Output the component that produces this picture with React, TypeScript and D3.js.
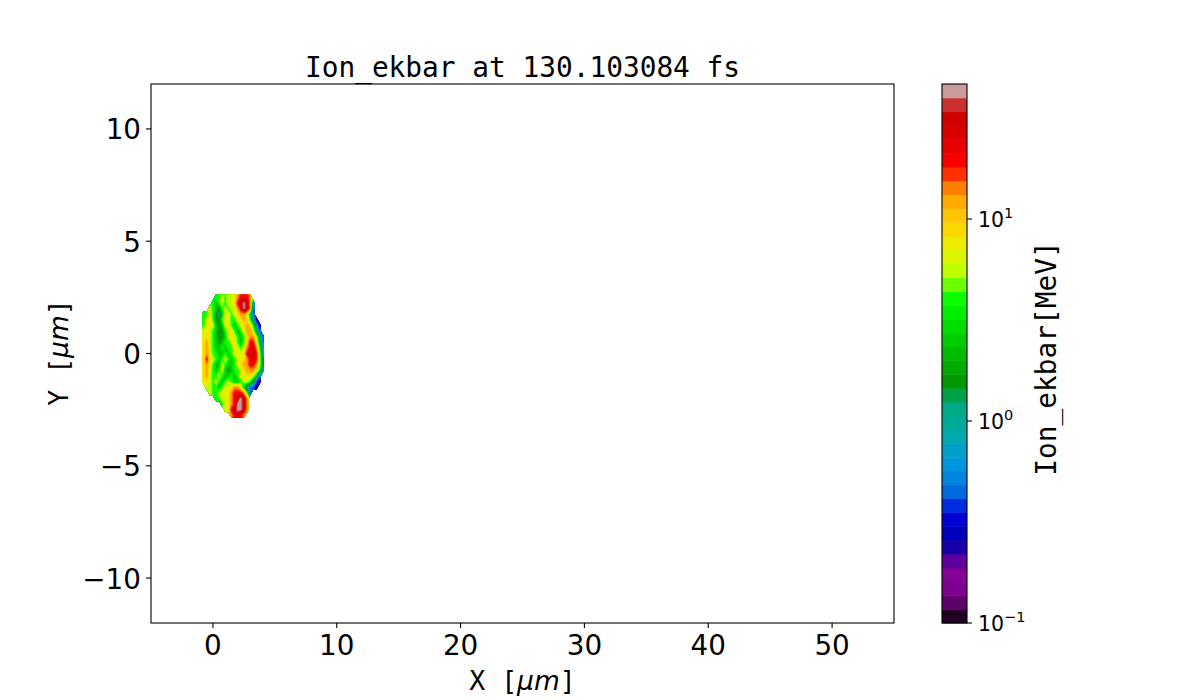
import * as d3 from "d3";
import { useMemo } from "react";

// axes
const X_DOMAIN = [-5, 55];
const Y_DOMAIN = [-12, 12];
const X_TICKS = [0, 10, 20, 30, 40, 50];
const Y_TICKS = [-10, -5, 0, 5, 10];

// colour bar (log scale, discrete contour levels)
const CBAR_MIN = 0.1;
const CBAR_MAX = 46.6;
const N_BANDS = 39;
const CBAR_TICKS = [0.1, 1, 10];
const CBAR_TICK_EXP = ["\u22121", "0", "1"];

// ion energy map: one char per cell, "." = no ions
// grid starts at x = -1 um (left) and y = 2.75 um (top), 0.25 um per cell
const GRID_X0 = -1.0;
const GRID_Y0 = 2.75;
const GRID_STEP = 0.25;
const ENERGY_CODES = "0123456789ab";
const ENERGY_MEV = [0.25, 0.45, 0.9, 1.6, 2.5, 4, 6, 8, 13, 20, 30, 42];
const ENERGY_GRID = [
  "......................",
  ".....556566789998.....",
  "....545656679aba82....",
  "...65435656689ba81....",
  ".55653246756788741....",
  ".567533576556787520...",
  ".5676434675456787520..",
  ".6765433567545688631..",
  ".77654334676545788631.",
  ".78654345567545799741.",
  ".7865445455765689a852.",
  ".787554454567679aa962.",
  ".7976545654567789a963.",
  ".78754465445678899863.",
  ".78654564345567888752.",
  ".7865565445456777641..",
  ".7765654565445665310..",
  "..66554566788742110...",
  "...65566778999851.....",
  ".....5566789aba8......",
  ".......56789bba8......",
  "........679abba8......",
  "..........89a98.......",
  "......................",
];

// matplotlib nipy_spectral segment table
const NS_R = [0, 0.4667, 0.5333, 0, 0, 0, 0, 0, 0, 0, 0, 0, 0, 0.7333, 0.9333, 1, 1, 1, 0.8667, 0.8, 0.8];
const NS_G = [0, 0, 0, 0, 0, 0.4667, 0.6, 0.6667, 0.6667, 0.6, 0.7333, 0.8667, 1, 1, 0.9333, 0.8, 0.6, 0, 0, 0, 0.8];
const NS_B = [0, 0.5333, 0.6, 0.6667, 0.8667, 0.8667, 0.8667, 0.6667, 0.5333, 0, 0, 0, 0, 0, 0, 0, 0, 0, 0, 0, 0.8];

const nipySpectral = d3
  .scaleLinear<string>()
  .domain(NS_R.map((_, i) => i * 0.05))
  .range(NS_R.map((r, i) => d3.rgb(r * 255, NS_G[i] * 255, NS_B[i] * 255).toString()))
  .interpolate(d3.interpolateRgb)
  .clamp(true);

const W = 1200;
const H = 700;
const PLOT = { left: 151, right: 894, top: 84, bottom: 623 };
const CBAR = { left: 942, right: 967 };

const MONO = "'DejaVu Sans Mono', monospace";
const SANS = "'DejaVu Sans', sans-serif";

export default function App() {
  const x = d3.scaleLinear().domain(X_DOMAIN).range([PLOT.left, PLOT.right]);
  const y = d3.scaleLinear().domain(Y_DOMAIN).range([PLOT.bottom, PLOT.top]);
  const c = d3.scaleLog().domain([CBAR_MIN, CBAR_MAX]).range([PLOT.bottom, PLOT.top]);

  // band edges, equal steps in log space
  const lmin = Math.log10(CBAR_MIN);
  const lmax = Math.log10(CBAR_MAX);
  const edges = d3.range(N_BANDS + 1).map((k) => Math.pow(10, lmin + (k * (lmax - lmin)) / N_BANDS));
  const bandColor = d3.range(N_BANDS).map((k) => {
    const mid = 0.5 * (edges[k] + edges[k + 1]);
    return nipySpectral((Math.log10(mid) - lmin) / (lmax - lmin));
  });

  const { bands, mask } = useMemo(() => {
    const nx = ENERGY_GRID[0].length;
    const ny = ENERGY_GRID.length;
    const vals: number[] = [];
    const inside: number[] = [];
    ENERGY_GRID.forEach((row) => {
      for (const ch of row) {
        const i = ENERGY_CODES.indexOf(ch);
        vals.push(i < 0 ? NaN : Math.log10(ENERGY_MEV[i]));
        inside.push(i < 0 ? 0 : 1);
      }
    });
    // pad the empty cells with neighbour means so the contours don't
    // fall off at the blob edge; the mask clips them afterwards
    for (let pass = 0; pass < 3; pass++) {
      const next = vals.slice();
      for (let j = 0; j < ny; j++) {
        for (let i = 0; i < nx; i++) {
          if (!isNaN(vals[j * nx + i])) continue;
          let s = 0;
          let n = 0;
          for (let dj = -1; dj <= 1; dj++)
            for (let di = -1; di <= 1; di++) {
              const ii = i + di;
              const jj = j + dj;
              if (ii < 0 || jj < 0 || ii >= nx || jj >= ny) continue;
              const v = vals[jj * nx + ii];
              if (!isNaN(v)) {
                s += v;
                n++;
              }
            }
          if (n) next[j * nx + i] = s / n;
        }
      }
      for (let k = 0; k < vals.length; k++) vals[k] = next[k];
    }
    const filled = vals.map((v) => (isNaN(v) ? -5 : v));
    const thresholds = edges.slice(0, N_BANDS).map((e) => Math.log10(e));
    const bands = d3.contours().size([nx, ny]).thresholds(thresholds)(filled);
    const mask = d3.contours().size([nx, ny]).thresholds([0.5])(inside)[0];
    return { bands, mask };
  }, []);

  const proj = d3.geoTransform({
    point(gx: number, gy: number) {
      this.stream.point(x(GRID_X0 + (gx - 0.5) * GRID_STEP), y(GRID_Y0 - (gy - 0.5) * GRID_STEP));
    },
  });
  const path = d3.geoPath(proj);

  return (
    <div style={{ position: "absolute", left: 0, top: 0 }}>
      <svg width={W} height={H} style={{ display: "block", background: "#fff" }}>
        <defs>
          <clipPath id="blob-mask">
            <path d={path(mask as any) || ""} />
          </clipPath>
        </defs>

        <text x={(PLOT.left + PLOT.right) / 2} y={77} textAnchor="middle" fontFamily={MONO} fontSize={27.8}>
          Ion_ekbar at 130.103084 fs
        </text>

        <g clipPath="url(#blob-mask)">
          {bands.map((b, k) => (
            <path key={k} d={path(b as any) || ""} fill={bandColor[k]} stroke={bandColor[k]} strokeWidth={0.4} />
          ))}
        </g>

        <rect
          x={PLOT.left}
          y={PLOT.top}
          width={PLOT.right - PLOT.left}
          height={PLOT.bottom - PLOT.top}
          fill="none"
          stroke="#000"
          strokeWidth={1.1}
        />

        {X_TICKS.map((t) => (
          <g key={t}>
            <line x1={x(t)} x2={x(t)} y1={PLOT.bottom} y2={PLOT.bottom + 5} stroke="#000" strokeWidth={1.1} />
            <text x={x(t)} y={655} textAnchor="middle" fontFamily={SANS} fontSize={27.8}>
              {t < 0 ? `\u2212${-t}` : t}
            </text>
          </g>
        ))}
        {Y_TICKS.map((t) => (
          <g key={t}>
            <line x1={PLOT.left - 5} x2={PLOT.left} y1={y(t)} y2={y(t)} stroke="#000" strokeWidth={1.1} />
            <text x={141} y={y(t) + 10.5} textAnchor="end" fontFamily={SANS} fontSize={27.8}>
              {t < 0 ? `\u2212${-t}` : t}
            </text>
          </g>
        ))}

        <text x={(PLOT.left + PLOT.right) / 2} y={690} textAnchor="middle" fontSize={26.5}>
          <tspan fontFamily={MONO}>X [</tspan>
          <tspan fontFamily={SANS} fontStyle="italic">
            μm
          </tspan>
          <tspan fontFamily={MONO}>]</tspan>
        </text>
        <text transform={`translate(68,${(PLOT.top + PLOT.bottom) / 2 - 1}) rotate(-90)`} textAnchor="middle" fontSize={26.5}>
          <tspan fontFamily={MONO}>Y [</tspan>
          <tspan fontFamily={SANS} fontStyle="italic">
            μm
          </tspan>
          <tspan fontFamily={MONO}>]</tspan>
        </text>

        {/* colour bar */}
        {bandColor.map((col, k) => (
          <rect
            key={k}
            x={CBAR.left}
            y={c(edges[k + 1])}
            width={CBAR.right - CBAR.left}
            height={c(edges[k]) - c(edges[k + 1]) + 0.5}
            fill={col}
          />
        ))}
        <rect
          x={CBAR.left}
          y={PLOT.top}
          width={CBAR.right - CBAR.left}
          height={PLOT.bottom - PLOT.top}
          fill="none"
          stroke="#000"
          strokeWidth={1.1}
        />
        {CBAR_TICKS.map((t, i) => (
          <g key={t}>
            <line x1={CBAR.right} x2={CBAR.right + 5} y1={c(t)} y2={c(t)} stroke="#000" strokeWidth={1.1} />
            <text x={978} y={c(t) + 7.5} fontFamily={SANS} fontSize={20.5}>
              10
              <tspan dy={-8.5} fontSize={14.5}>
                {CBAR_TICK_EXP[i]}
              </tspan>
            </text>
          </g>
        ))}
        <text
          transform={`translate(1056,${(PLOT.top + PLOT.bottom) / 2 + 5}) rotate(-90)`}
          textAnchor="middle"
          fontFamily={MONO}
          fontSize={27.8}
        >
          Ion_ekbar[MeV]
        </text>
      </svg>
    </div>
  );
}
